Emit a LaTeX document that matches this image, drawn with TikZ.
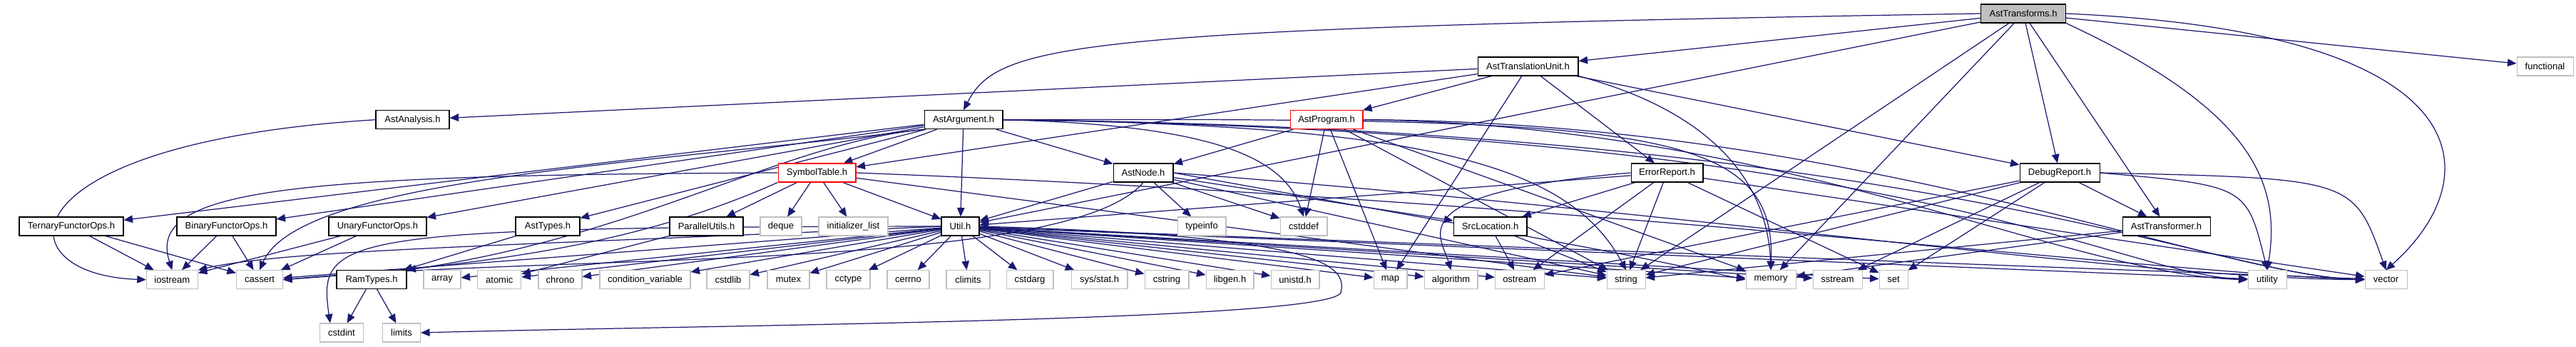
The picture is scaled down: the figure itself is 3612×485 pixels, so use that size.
\documentclass[tikz,border=0pt]{standalone}
\usepackage{fontspec}
\setmainfont{Liberation Sans}
\usetikzlibrary{arrows.meta}
\definecolor{edgec}{HTML}{191970}
\definecolor{greyb}{HTML}{BFBFBF}
\pgfdeclarelayer{bg}
\pgfsetlayers{bg,main}
\begin{document}
\begin{tikzpicture}[x=0.02cm,y=-0.02cm,
  nb/.style={draw=black, line width=0.6pt, inner sep=0pt, minimum height=0.52cm, fill=white, font=\fontsize{7.4}{8}\selectfont},
  sb/.style={nb, draw=greyb},
  rb/.style={nb, draw=red},
  e/.style={draw=edgec, line width=0.7pt, -{Triangle[length=2.5mm,width=2.1mm]}}]
\useasboundingbox (0,0) rectangle (3612,485);
% row 0
\node[nb, fill=greyb, minimum width=2.38cm] (T) at (2837,19) {AstTransforms.h};
% row 1
\node[nb, minimum width=2.82cm] (ATU) at (2142.5,93) {AstTranslationUnit.h};
\node[sb, minimum width=1.58cm] (functional) at (3568.5,93) {functional};
% row 2
\node[nb, minimum width=2.06cm] (AstAnalysis) at (578.5,167.7) {AstAnalysis.h};
\node[nb, minimum width=2.20cm] (AA) at (1351,167.7) {AstArgument.h};
\node[rb, minimum width=2.04cm] (AP) at (1860,167.7) {AstProgram.h};
% row 3
\node[rb, minimum width=2.18cm] (ST) at (1145.5,242) {SymbolTable.h};
\node[nb, minimum width=1.68cm] (AN) at (1603,242) {AstNode.h};
\node[nb, minimum width=2.02cm] (ER) at (2337.5,242) {ErrorReport.h};
\node[nb, minimum width=2.24cm] (DR) at (2888,242) {DebugReport.h};
% row 4
\node[nb, minimum width=2.92cm] (Ternary) at (100,317) {TernaryFunctorOps.h};
\node[nb, minimum width=2.78cm] (Binary) at (317.5,317) {BinaryFunctorOps.h};
\node[nb, minimum width=2.74cm] (Unary) at (529.5,317) {UnaryFunctorOps.h};
\node[nb, minimum width=1.80cm] (AstTypes) at (768,317) {AstTypes.h};
\node[nb, minimum width=2.06cm] (ParallelUtils) at (990.5,317) {ParallelUtils.h};
\node[sb, minimum width=1.16cm] (deque) at (1095,317) {deque};
\node[sb, minimum width=1.94cm] (init) at (1196.5,317) {initializer\_list};
\node[nb, minimum width=1.06cm] (Util) at (1346.5,317) {Util.h};
\node[sb, minimum width=1.36cm] (typeinfo) at (1685,317) {typeinfo};
\node[sb, minimum width=1.32cm] (cstddef) at (1828,317) {cstddef};
\node[nb, minimum width=2.06cm] (SrcLocation) at (2089.5,317) {SrcLocation.h};
\node[nb, minimum width=2.46cm] (ATr) at (3037.5,317) {AstTransformer.h};
% row 5
\node[sb, minimum width=1.44cm] (iostream) at (241.3,391.7) {iostream};
\node[sb, minimum width=1.30cm] (cassert) at (364,391.7) {cassert};
\node[nb, minimum width=1.96cm] (RamTypes) at (521,391.7) {RamTypes.h};
\node[sb, minimum width=1.04cm] (array) at (620,391.7) {array};
\node[sb, minimum width=1.22cm] (atomic) at (700.3,391.7) {atomic};
\node[sb, minimum width=1.22cm] (chrono) at (785.5,391.7) {chrono};
\node[sb, minimum width=2.54cm] (condvar) at (904.5,391.7) {condition\_variable};
\node[sb, minimum width=1.20cm] (cstdlib) at (1021,391.7) {cstdlib};
\node[sb, minimum width=1.18cm] (mutex) at (1105.5,391.7) {mutex};
\node[sb, minimum width=1.22cm] (cctype) at (1189.5,391.7) {cctype};
\node[sb, minimum width=1.18cm] (cerrno) at (1273.5,391.7) {cerrno};
\node[sb, minimum width=1.22cm] (climits) at (1357.5,391.7) {climits};
\node[sb, minimum width=1.32cm] (cstdarg) at (1444,391.7) {cstdarg};
\node[sb, minimum width=1.58cm] (sysstat) at (1541.5,391.7) {sys/stat.h};
\node[sb, minimum width=1.24cm] (cstring) at (1636,391.7) {cstring};
\node[sb, minimum width=1.34cm] (libgen) at (1724.5,391.7) {libgen.h};
\node[sb, minimum width=1.36cm] (unistd) at (1816,391.7) {unistd.h};
\node[sb, minimum width=0.94cm] (map) at (1949.5,391.7) {map};
\node[sb, minimum width=1.50cm] (algorithm) at (2034.5,391.7) {algorithm};
\node[sb, minimum width=1.38cm] (ostream) at (2130.7,391.7) {ostream};
\node[sb, minimum width=1.08cm] (string) at (2280,391.7) {string};
\node[sb, minimum width=1.40cm] (memory) at (2483,391.7) {memory};
\node[sb, minimum width=1.38cm] (sstream) at (2576.5,391.7) {sstream};
\node[sb, minimum width=0.80cm] (set) at (2655,391.7) {set};
\node[sb, minimum width=1.08cm] (utility) at (3179,391.7) {utility};
\node[sb, minimum width=1.18cm] (vector) at (3345.5,391.7) {vector};
% row 6
\node[sb, minimum width=1.22cm] (cstdint) at (479,466) {cstdint};
\node[sb, minimum width=1.06cm] (limits) at (563,466) {limits};
\coordinate (lb) at (1880,410);

\begin{pgfonlayer}{bg}
\foreach \a/\b in {T/ATU, T/DR, T/ATr, T/functional, T/Util, T/string, T/memory,
  ATU/AstAnalysis, ATU/AP, ATU/ER, ATU/DR, ATU/ST, ATU/map,
  AA/AN, AA/AstTypes, AA/ST, AA/Util, AA/Ternary, AA/Binary, AA/Unary,
  AP/AN, AP/map, AP/cstddef, AP/memory, AP/string,
  ST/ParallelUtils, ST/deque, ST/init, ST/Util, ST/string,
  AN/SrcLocation, AN/Util, AN/typeinfo, AN/cstddef, AN/string,
  ER/SrcLocation, ER/Util, ER/ostream, ER/string, ER/set, ER/vector,
  SrcLocation/ostream, SrcLocation/string,
  DR/ATr, DR/ostream, DR/string, DR/sstream, DR/set,
  ATr/string, ATr/memory,
  Ternary/iostream, Ternary/cassert, Binary/iostream, Binary/cassert, Unary/iostream, Unary/cassert,
  AstTypes/RamTypes, ParallelUtils/atomic, RamTypes/cstdint, RamTypes/limits,
  Util/array, Util/atomic, Util/chrono, Util/condvar, Util/cstdlib, Util/mutex, Util/cctype,
  Util/cerrno, Util/climits, Util/cstdarg, Util/sysstat, Util/cstring, Util/libgen, Util/unistd,
  Util/map, Util/algorithm, Util/ostream, Util/string, Util/memory, Util/sstream, Util/set,
  Util/utility, Util/vector, Util/cassert}
  \draw[e] (\a) -- (\b);
% curved connectors
\draw[e] (T.west) .. controls (1500,40) and (1400,60) .. (AA.north);
\draw[e] (T.east) .. controls (3490,45) and (3490,250) .. (vector.north);
\draw[e] (T.south east) .. controls (3150,150) and (3200,250) .. (utility.north);
\draw[e] (AstAnalysis.west) .. controls (0,200) and (0,385) .. (iostream.west);
\draw[e] (ATU.south east) .. controls (2450,170) and (2480,300) .. (memory.north);
\draw[e] (AA.south west) .. controls (900,230) and (420,250) .. (cassert.north);
\draw[e] (AA.south west) .. controls (1100,200) and (900,330) .. (RamTypes.north east);
\draw[e] (AA.east) .. controls (1700,175) and (1800,220) .. (cstddef.north);
\draw[e] (AA.east) .. controls (2300,165) and (2490,175) .. (memory.north);
\draw[e] (AA.east) .. controls (2000,175) and (2200,230) .. (string.north);
\draw[e] (AA.east) .. controls (2700,185) and (2950,380) .. (utility.west);
\draw[e] (AA.east) .. controls (2700,180) and (3100,385) .. (vector.west);
\draw[e] (AP.east) .. controls (2500,175) and (2900,385) .. (utility.west);
\draw[e] (AP.east) .. controls (2600,170) and (3100,385) .. (vector.west);
\draw[e] (AN.east) .. controls (2250,350) .. (memory.west);
\draw[e] (AN.east) .. controls (2400,300) and (3000,390) .. (vector.west);
\draw[e] (AN.south) .. controls (1500,380) and (800,355) .. (cassert.east);
\draw[e] (ST.south west) .. controls (900,340) and (700,370) .. (cassert.east);
\draw[e] (ST.west) .. controls (400,245) and (205,265) .. (iostream.north);
\draw[e] (ST.east) .. controls (2200,280) and (3000,380) .. (vector.west);
\draw[e] (ER.west) .. controls (1960,270) and (2020,330) .. (algorithm.north);
\draw[e] (DR.east) .. controls (3150,260) .. (utility.north);
\draw[e] (DR.east) .. controls (3300,250) .. (vector.north);
\draw[e] (Util.west) .. controls (700,345) and (400,350) .. (iostream.north east);
\draw[e] (Util.east) .. controls (1850,330) and (1890,370) .. (lb) .. controls (1860,450) and (1000,455) .. (limits.east);
\draw[e] (Util.west) .. controls (470,318) and (445,330) .. ([xshift=0.3cm]cstdint.north west);
\end{pgfonlayer}
\end{tikzpicture}
\end{document}
